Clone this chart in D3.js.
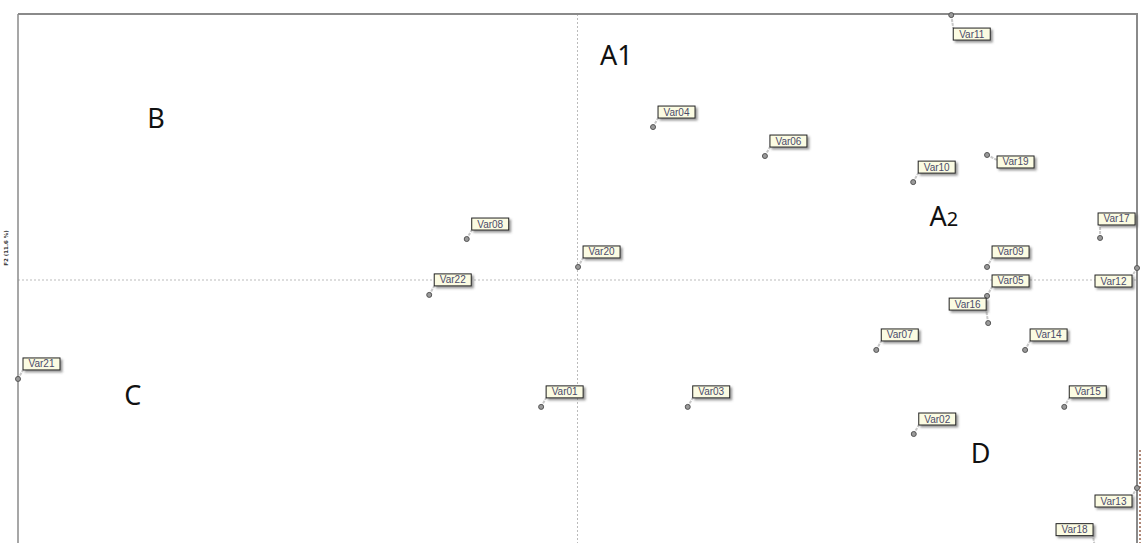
<!DOCTYPE html>
<html>
<head>
<meta charset="utf-8">
<script src="https://cdn.jsdelivr.net/npm/d3@7"></script>
<style>
  body { margin: 0; background: #fff; }
  svg { display: block; }
</style>
</head>
<body>
<div id="chart"></div>
<script>
// variables and their coordinates on the two dimensions
const names = ['Var01', 'Var02', 'Var03', 'Var04', 'Var05', 'Var06', 'Var07', 'Var08', 'Var09', 'Var10', 'Var11',
    'Var12', 'Var13', 'Var14', 'Var15', 'Var16', 'Var17', 'Var18', 'Var19', 'Var20', 'Var21', 'Var22'];
const dim1 = [-0.065, 0.601, 0.197, 0.135, 0.732, 0.335, 0.534, -0.198, 0.732, 0.600, 0.668,
    1.0, 1.0, 0.800, 0.870, 0.734, 0.934, 0.925, 0.732, 0.001, -1.0, -0.265];
const dim2 = [-0.477, -0.579, -0.477, 0.575, -0.060, 0.466, -0.263, 0.154, 0.049, 0.368, 0.996,
    0.045, -0.782, -0.263, -0.477, -0.162, 0.158, -1.01, 0.470, 0.049, -0.372, -0.056];
// which side of the point the label sits on
const labelSide = ['ne', 'ne', 'ne', 'ne', 'ne', 'ne', 'ne', 'ne', 'ne', 'ne', 'se',
    'sw', 'sw', 'ne', 'ne', 'nw', 'n', 'nw', 'e', 'ne', 'ne', 'ne'];

// group letters placed on the map
const groupNames = ['A1', 'B', 'A2', 'C', 'D'];
const groupX = [0.040, -0.769, 0.629, -0.810, 0.703];
const groupY = [0.808, 0.571, 0.203, -0.470, -0.688];

const width = 1141, height = 543;

const x = d3.scaleLinear().domain([-1, 1]).range([18, 1137]);
const y = d3.scaleLinear().domain([-1, 1]).range([546, 14]);

const svg = d3.select('#chart')
    .append('svg')
    .attr('width', width)
    .attr('height', height);

const defs = svg.append('defs');
const shadow = defs.append('filter').attr('id', 'shadow')
    .attr('x', '-20%').attr('y', '-20%').attr('width', '150%').attr('height', '170%');
shadow.append('feDropShadow')
    .attr('dx', 2).attr('dy', 2).attr('stdDeviation', 0.8)
    .attr('flood-color', '#555').attr('flood-opacity', 0.6);

// crosshair through the origin
svg.append('line')
    .attr('x1', x(0)).attr('x2', x(0))
    .attr('y1', y(1)).attr('y2', height)
    .style('stroke', '#bbb').style('stroke-width', 1).style('stroke-dasharray', '2,2');
svg.append('line')
    .attr('x1', x(-1)).attr('x2', x(1))
    .attr('y1', y(0)).attr('y2', y(0))
    .style('stroke', '#bbb').style('stroke-width', 1).style('stroke-dasharray', '2,2');

// frame
svg.append('line')
    .attr('x1', x(-1)).attr('x2', x(1) + 1)
    .attr('y1', y(1)).attr('y2', y(1))
    .style('stroke', '#8a8a8a').style('stroke-width', 2);
svg.append('line')
    .attr('x1', x(-1)).attr('x2', x(-1))
    .attr('y1', y(1)).attr('y2', height)
    .style('stroke', '#8a8a8a').style('stroke-width', 1.5);
svg.append('line')
    .attr('x1', x(1)).attr('x2', x(1))
    .attr('y1', y(1)).attr('y2', height)
    .style('stroke', '#8a8a8a').style('stroke-width', 2);

// tiny axis captions
svg.append('text')
    .attr('transform', `translate(8, ${y(0) - 32}) rotate(-90)`)
    .attr('text-anchor', 'middle')
    .attr('font-family', 'DejaVu Sans, sans-serif')
    .attr('font-size', '5.5px')
    .attr('font-weight', 'bold')
    .attr('fill', '#333')
    .text('F2 (11.6 %)');
svg.append('line')
    .attr('x1', x(1) + 3).attr('x2', x(1) + 3)
    .attr('y1', 450).attr('y2', height)
    .style('stroke', '#b08878').style('stroke-width', 2).style('stroke-dasharray', '2,2');

const data = names.map((n, i) => ({ name: n, x: dim1[i], y: dim2[i], side: labelSide[i] }));

const boxW = 37, boxH = 12;
// top-left corner of the label box relative to the point, and anchor of the leader line
const offsets = {
    ne: { bx: 5, by: -21, ax: 5, ay: -9 },
    se: { bx: 2, by: 13, ax: 2, ay: 13 },
    e: { bx: 10, by: 1, ax: 10, ay: 5 },
    n: { bx: -2, by: -25, ax: 0, ay: -13 },
    nw: { bx: -39, by: -25, ax: -2, ay: -13 },
    sw: { bx: -42, by: 7, ax: -5, ay: 8 }
};

const marks = svg.selectAll('g.var')
    .data(data)
    .enter()
    .append('g')
    .attr('class', 'var')
    .attr('transform', d => `translate(${x(d.x)},${y(d.y)})`);

// leader lines
marks.append('line')
    .attr('x1', 0).attr('y1', 0)
    .attr('x2', d => offsets[d.side].ax)
    .attr('y2', d => offsets[d.side].ay)
    .style('stroke', '#c8c8c8').style('stroke-width', 2).style('stroke-dasharray', '3,1');

// point markers
marks.append('circle')
    .attr('r', 2.5)
    .style('fill', '#9a9a9a')
    .style('stroke', '#555')
    .style('stroke-width', 1);

// label boxes
marks.append('rect')
    .attr('x', d => offsets[d.side].bx)
    .attr('y', d => offsets[d.side].by)
    .attr('width', boxW).attr('height', boxH)
    .attr('filter', 'url(#shadow)')
    .style('fill', '#fbfbe2')
    .style('stroke', '#222')
    .style('stroke-width', 1);

marks.append('text')
    .attr('x', d => offsets[d.side].bx + boxW / 2)
    .attr('y', d => offsets[d.side].by + boxH / 2 + 3.5)
    .attr('text-anchor', 'middle')
    .attr('font-family', 'Liberation Sans, Arial, sans-serif')
    .attr('font-size', '10px')
    .attr('fill', '#4a4a6a')
    .text(d => d.name);

// group letters (only A2 has a small index)
const groups = groupNames.map((g, i) => ({ name: g, x: groupX[i], y: groupY[i] }));
const gText = svg.selectAll('text.group')
    .data(groups)
    .enter()
    .append('text')
    .attr('class', 'group')
    .attr('x', d => x(d.x))
    .attr('y', d => y(d.y))
    .attr('font-family', 'Noto Sans, Open Sans, sans-serif')
    .attr('font-size', '27px')
    .attr('fill', '#111');
gText.append('tspan')
    .text(d => d.name === 'A2' ? 'A' : d.name);
gText.filter(d => d.name === 'A2')
    .append('tspan')
    .attr('font-size', '20px')
    .text('2');
</script>
</body>
</html>
